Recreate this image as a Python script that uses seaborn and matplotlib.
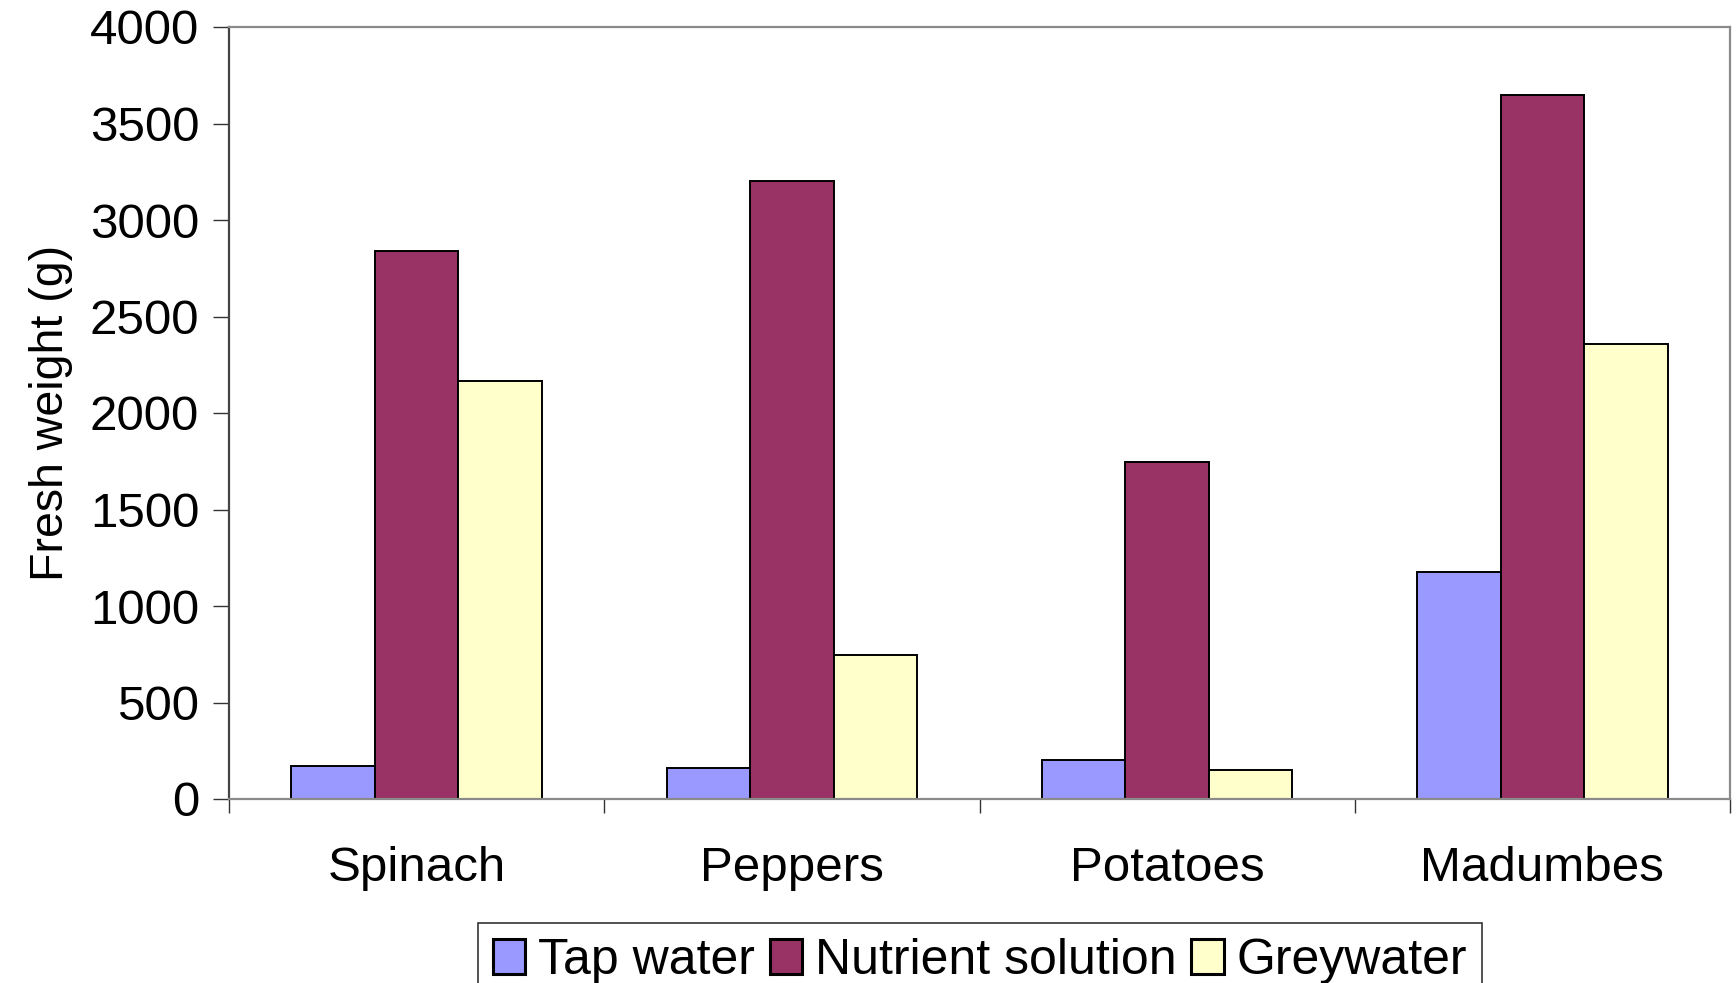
import matplotlib
matplotlib.use("Agg")
import matplotlib.pyplot as plt
import seaborn as sns
import pandas as pd

crops = ["Spinach", "Peppers", "Potatoes", "Madumbes"]
treatments = ["Tap water", "Nutrient solution", "Greywater"]
tap_water = [172, 160, 200, 1175]
nutrient_solution = [2837, 3203, 1748, 3650]
greywater = [2166, 745, 149, 2355]
colors = ["#9999FF", "#993366", "#FFFFCC"]

df = pd.DataFrame({
    "crop": crops * 3,
    "treatment": [t for t in treatments for _ in crops],
    "weight": tap_water + nutrient_solution + greywater,
})

sns.set_theme(style="white")
plt.rcParams["font.family"] = ["Liberation Sans", "DejaVu Sans"]
plt.rcParams["text.color"] = "black"
plt.rcParams["axes.labelcolor"] = "black"
plt.rcParams["xtick.color"] = "black"
plt.rcParams["ytick.color"] = "black"

fig = plt.figure(figsize=(17.36, 9.83), dpi=100)
ax = fig.add_axes([229 / 1736, 1 - 799 / 983, (1730 - 229) / 1736, (799 - 27) / 983])

sns.barplot(data=df, x="crop", y="weight", hue="treatment", order=crops,
            hue_order=treatments, palette=colors, saturation=1, width=0.667,
            gap=0, edgecolor="black", linewidth=1.4, errorbar=None, ax=ax)

ax.set_xlim(-0.5, 3.5)
ax.set_ylim(0, 4000)
ax.set_yticks(range(0, 4001, 500))
ax.set_xlabel("")
ax.set_ylabel("Fresh weight (g)", fontsize=33.5, labelpad=12)

ax.tick_params(axis="y", which="major", direction="out", length=11.5, width=1,
               color="#333333", labelcolor="black", labelsize=35.5, pad=10, left=True)
ax.tick_params(axis="x", which="major", length=0, labelsize=35.5, labelcolor="black", pad=34)
ax.set_xticks([-0.5, 0.5, 1.5, 2.5, 3.5], minor=True)
ax.tick_params(axis="x", which="minor", direction="out", length=10, width=1,
               color="#333333", bottom=True)

for side in ["top", "right", "bottom"]:
    ax.spines[side].set_color("#8a8a8a")
    ax.spines[side].set_linewidth(1.6)
ax.spines["left"].set_color("#444444")
ax.spines["left"].set_linewidth(1.6)

handles, labels = ax.get_legend_handles_labels()
for h in handles:
    h.set_linewidth(2.2)
leg = ax.legend(handles, labels, loc="upper center",
                bbox_to_anchor=(0.5645, 1 - 923 / 983), bbox_transform=fig.transFigure,
                ncol=3, fontsize=36, frameon=True, fancybox=False,
                handlelength=0.65, handleheight=0.7, handletextpad=0.25,
                columnspacing=0.3, borderpad=0.3, borderaxespad=0)
leg.get_frame().set_edgecolor("black")
leg.get_frame().set_linewidth(1.2)

fig.savefig("out.png", dpi=100)
